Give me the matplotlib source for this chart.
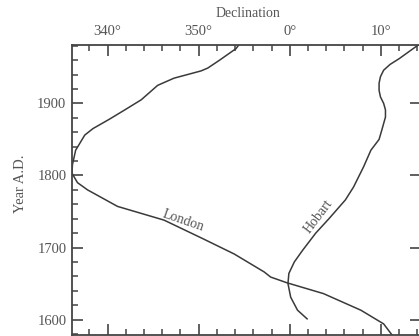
import matplotlib
matplotlib.use("Agg")
import matplotlib.pyplot as plt
from matplotlib.ticker import MultipleLocator

# Data (declination in degrees, negative = west, i.e. 340° = -20)
london_year = [1981, 1976, 1960, 1949, 1945, 1935, 1925, 1905, 1891, 1878, 1865, 1856,
               1835, 1815, 1803, 1790, 1780, 1757, 1738, 1712, 1691, 1666, 1659, 1651,
               1636, 1613, 1594, 1579]
london_decl = [-5.6, -5.9, -7.7, -9.0, -9.75, -12.7, -14.5, -16.3, -18.1, -19.8, -21.6, -22.5,
               -23.5, -23.85, -23.9, -23.3, -22.2, -18.9, -13.8, -9.5, -6.1, -2.8, -2.1, -0.3,
               3.7, 7.8, 10.3, 11.2]

hobart_year = [1981, 1972, 1962, 1954, 1946, 1937, 1928, 1918, 1909, 1900, 1891, 1881,
               1863, 1850, 1835, 1812, 1784, 1766, 1740, 1720, 1696, 1680, 1664, 1650,
               1631, 1613, 1601]
hobart_decl = [14.1, 13.1, 12.0, 11.0, 10.3, 9.95, 9.8, 9.8, 9.95, 10.3, 10.5, 10.5,
               10.1, 9.8, 8.9, 8.1, 7.0, 6.1, 4.3, 2.85, 1.4, 0.5, -0.1, -0.2,
               0.1, 0.85, 1.9]

x_ticks = [-20, -10, 0, 10]
x_labels = ["340°", "350°", "0°", "10°"]
y_ticks = [1600, 1700, 1800, 1900]

W, H = 419, 336
plt.rcParams['font.family'] = ['Liberation Serif', 'DejaVu Serif']
text_col = "#555555"
line_col = "#3a3a3a"

fig = plt.figure(figsize=(W / 100, H / 100), dpi=100)
left, right, top, bottom = 72, 421, 45, 334.7
ax = fig.add_axes([left / W, 1 - bottom / H, (right - left) / W, (bottom - top) / H])

ax.plot(london_decl, london_year, color=line_col, lw=1.1)
ax.plot(hobart_decl, hobart_year, color=line_col, lw=1.1)

ax.set_xlim(-23.9, 14.4)
ax.set_ylim(1579, 1981)

for s in ax.spines.values():
    s.set_color("#444444")
    s.set_linewidth(1.3)

ax.set_xticks(x_ticks)
ax.set_xticklabels(x_labels)
ax.xaxis.set_minor_locator(MultipleLocator(2))
ax.set_yticks(y_ticks)
ax.yaxis.set_minor_locator(MultipleLocator(20))

ax.tick_params(axis='x', which='both', direction='in', top=True, bottom=True,
               labeltop=True, labelbottom=False, colors="#444444", labelcolor=text_col,
               labelsize=10.5, pad=5)
ax.tick_params(axis='x', which='major', length=8, width=1.2)
ax.tick_params(axis='x', which='minor', length=4.5, width=1.1)
ax.tick_params(axis='y', which='both', direction='in', left=True, right=True,
               labelleft=True, labelright=False, colors="#444444", labelcolor=text_col,
               labelsize=10.5, pad=4)
ax.tick_params(axis='y', which='major', length=8, width=1.2)
ax.tick_params(axis='y', which='minor', length=4.5, width=1.1, right=False)

fig.text(248 / W, 1 - 13.5 / H, "Declination", ha='center', va='center',
         color=text_col, fontsize=10)
fig.text(20 / W, 1 - 184 / H, "Year A.D.", ha='center', va='center', rotation=90,
         color=text_col, fontsize=10.5)

ax.text(-11.7, 1737, "London", rotation=-19, ha='center', va='center',
        color=text_col, fontsize=10)
ax.text(3.1, 1743, "Hobart", rotation=53, ha='center', va='center',
        color=text_col, fontsize=10)

fig.savefig("out.png", dpi=100)
